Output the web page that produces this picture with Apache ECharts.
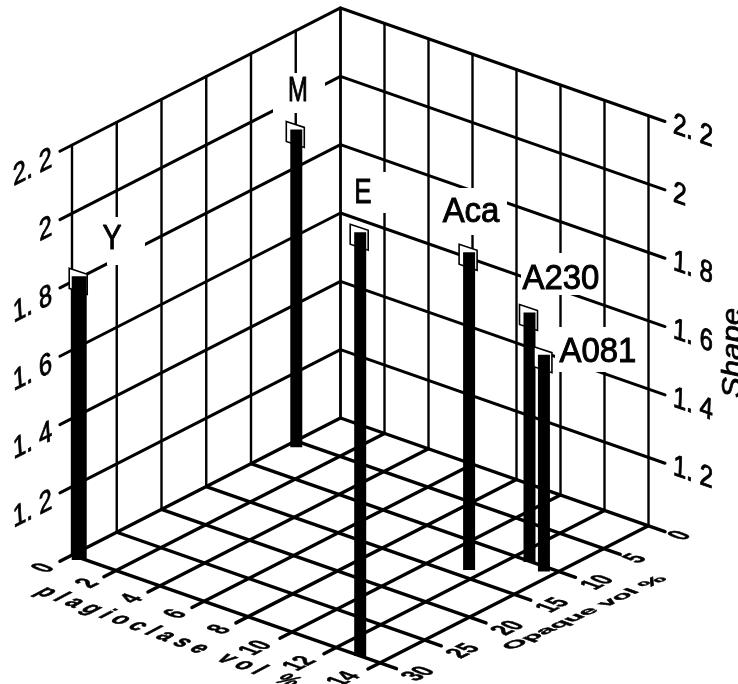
<!DOCTYPE html>
<html>
<head>
<meta charset="utf-8">
<style>html,body{margin:0;padding:0;background:#fff;overflow:hidden}#c{width:738px;height:684px}</style>
<script src="https://cdn.jsdelivr.net/npm/echarts@6/dist/echarts.min.js"></script>
</head>
<body>
<div id="c"></div>
<script>
// ---- data ----
var sampleNames = ['Y', 'M', 'E', 'Aca', 'A230', 'A081'];
var plagioclase = [0.45, 0.35, 13.1, 11.5, 12.7, 13.6];
var opaque      = [30.3, 5.8, 30.0, 13.9, 10.1, 10.7];
var shape       = [1.83, 1.93, 2.24, 1.93, 1.73, 1.635];

var plagTicks  = [0, 2, 4, 6, 8, 10, 12, 14];
var opaqueTicks = [0, 5, 10, 15, 20, 25, 30];
var shapeTicks = [1.2, 1.4, 1.6, 1.8, 2, 2.2];
var shapeTickLabels = ['1. 2', '1. 4', '1. 6', '1. 8', '2', '2. 2'];
var plagTitle = 'p l a g i o c l a s e   v o l   %';
var opaqueTitle = 'Opaque vol %';
var shapeTitle = 'Shape';

// ---- oblique projection of the 3D axes on to the page ----
var SHAPE_MIN = 1;
function proj(p, o, s) {
  return [340.5 + 22 * p - 8.95 * o,
          418 + 7.7 * p + 4.57 * o - 341.7 * (s - SHAPE_MIN)];
}
var PMAX = 14, OMAX = 30, SMAX = 2.2, PTICK = 14.75, OTICK = 31.35;

// ---- layout of the sample labels (white plates over the grid) ----
var plates = {
  Y:    {box: [107, 217, 145, 265], c: [112, 239], sx: 0.82},
  M:    {box: [273, 73, 325, 113],  c: [298, 91],  sx: 0.68},
  E:    {box: [345, 172, 395, 213], c: [363, 193], sx: 0.74},
  Aca:  {box: [435, 188, 507, 235], c: [471, 212], sx: 0.94},
  A230: {box: [521, 253, 600, 295], c: [561, 279], sx: 0.94},
  A081: {box: [555, 327, 612, 372], c: [598, 352], sx: 0.94}
};

// text with an arbitrary affine map: u = image of text x, v = image of text y
function affineText(str, x, y, u, v, font, align, heavy) {
  var a = u[0], b = u[1], c = v[0], d = v[1];
  var E = (a + d) / 2, F = (a - d) / 2, G = (b + c) / 2, H = (b - c) / 2;
  var Q = Math.hypot(E, H), R = Math.hypot(F, G);
  var a1 = Math.atan2(G, F), a2 = Math.atan2(H, E);
  var th = (a2 - a1) / 2, ph = (a2 + a1) / 2;
  return {
    type: 'group', x: x, y: y, rotation: -ph, scaleX: Q + R, scaleY: Q - R,
    children: [{
      type: 'text', rotation: -th,
      style: {text: str, x: 0, y: 0, fill: '#000', stroke: '#000', lineWidth: heavy || 0.7, font: font,
              align: align || 'center', verticalAlign: 'middle'}
    }]
  };
}

// grid segments built from the tick arrays: [p0,o0,s0,p1,o1,s1,width]
var segments = [];
opaqueTicks.forEach(function (o) {
  segments.push([0, o, SHAPE_MIN, 0, o, SMAX, 2.4]);
  segments.push([0, o, SHAPE_MIN, PTICK, o, SHAPE_MIN, 3.4]);
});
plagTicks.forEach(function (p) {
  segments.push([p, 0, SHAPE_MIN, p, 0, SMAX, 2.4]);
  segments.push([p, 0, SHAPE_MIN, p, OTICK, SHAPE_MIN, 3.4]);
});
shapeTicks.forEach(function (s) {
  segments.push([0, 0, s, 0, OTICK, s, 3]);
  segments.push([0, 0, s, PTICK, 0, s, 3]);
});

var sampleData = sampleNames.map(function (n, i) {
  return [plagioclase[i], opaque[i], shape[i], i];
});

function renderSeg(params, api) {
  var a = proj(api.value(0), api.value(1), api.value(2));
  var b = proj(api.value(3), api.value(4), api.value(5));
  var p0 = api.coord(a), p1 = api.coord(b);
  return {type: 'line', shape: {x1: p0[0], y1: p0[1], x2: p1[0], y2: p1[1]},
          style: {stroke: '#000', lineWidth: api.value(6), lineCap: 'round'}};
}

function renderBar(params, api) {
  var p = api.value(0), o = api.value(1), s = api.value(2), idx = api.value(3);
  var base = api.coord(proj(p, o, SHAPE_MIN));
  var top = api.coord(proj(p, o, s));
  var w = sampleNames[idx] === 'Y' ? 15 : 12;
  var cx = base[0], ty = top[1];
  return {type: 'group', children: [
    {type: 'polygon',
     shape: {points: [[cx - 10, ty - 8], [cx + 8, ty - 2], [cx + 8, ty + 18], [cx - 10, ty + 12]]},
     style: {fill: '#fff', stroke: '#000', lineWidth: 1.6}},
    {type: 'rect', shape: {x: cx - w / 2, y: ty, width: w, height: base[1] - ty},
     style: {fill: '#000'}}
  ]};
}

function renderPlate(params, api) {
  var pl = plates[sampleNames[api.value(3)]];
  var a = api.coord([pl.box[0], pl.box[1]]), b = api.coord([pl.box[2], pl.box[3]]);
  return {type: 'rect', shape: {x: a[0], y: a[1], width: b[0] - a[0], height: b[1] - a[1]},
          style: {fill: '#fff'}};
}
function renderPlateText(params, api) {
  var name = sampleNames[api.value(3)], pl = plates[name];
  var c = api.coord(pl.c);
  return affineText(name, c[0], c[1], [pl.sx, 0], [0, 1], '35px "Liberation Sans"', 'center', 1);
}

var FONT_TICK = '30px "Liberation Sans"';
var FONT_FLOOR = 'bold 30px "Liberation Sans"';
var FONT_TITLE = 'bold 22px "Liberation Sans"';
function renderTickTexts(params, api) {
  var kids = [];
  shapeTicks.forEach(function (s, i) {
    var l = api.coord(proj(0, OTICK, s));
    var r = api.coord(proj(PTICK, 0, s));
    kids.push(affineText(shapeTickLabels[i], l[0] - 8, l[1] + 7, [0.78, -0.39], [0.06, 1], FONT_TICK, 'right', 0.9));
    kids.push(affineText(shapeTickLabels[i], r[0] + 8, r[1] + 3, [0.8, 0.28], [-0.04, 1], FONT_TICK, 'left', 0.9));
  });
  var ub = [0.62, -0.31], vb = [0.85, 0.3];
  plagTicks.forEach(function (p) {
    var q = api.coord(proj(p, OMAX, SHAPE_MIN));
    var d = String(p).length > 1 ? [-36, 16] : [-28, 13];
    kids.push(affineText(String(p), q[0] + d[0], q[1] + d[1], ub, vb, FONT_FLOOR));
  });
  opaqueTicks.forEach(function (o) {
    var q = api.coord(proj(PMAX, o, SHAPE_MIN));
    var d = String(o).length > 1 ? [39, 11] : [32, 10];
    kids.push(affineText(String(o), q[0] + d[0], q[1] + d[1], ub, vb, FONT_FLOOR));
  });
  var a = api.coord([168, 637]);
  kids.push(affineText(plagTitle, a[0], a[1], [0.91, 0.335], [-0.85, 0.6], 'italic ' + FONT_TITLE));
  var b = api.coord([585, 613]);
  kids.push(affineText(opaqueTitle, b[0], b[1], [1.08, -0.49], [0.75, 0.27], FONT_TITLE));
  var c = api.coord([733, 353]);
  kids.push(affineText(shapeTitle, c[0], c[1], [0, -1.2], [1.05, 0], 'italic 26px "Liberation Sans"'));
  return {type: 'group', children: kids};
}

var chart = echarts.init(document.getElementById('c'), null, {renderer: 'canvas'});
chart.setOption({
  animation: false,
  backgroundColor: '#fff',
  grid: {left: 0, right: 0, top: 0, bottom: 0},
  xAxis: {type: 'value', min: 0, max: 738, show: false},
  yAxis: {type: 'value', min: 0, max: 684, inverse: true, show: false},
  series: [
    {type: 'custom', name: 'grid', coordinateSystem: 'cartesian2d', renderItem: renderSeg,
     data: segments, clip: false, silent: true, z: 1, encode: {x: 0, y: 1}},
    {type: 'custom', name: 'plates', coordinateSystem: 'cartesian2d', renderItem: renderPlate,
     data: sampleData, silent: true, z: 2, encode: {x: 0, y: 1}},
    {type: 'custom', name: 'plate text', coordinateSystem: 'cartesian2d', renderItem: renderPlateText,
     data: sampleData, silent: true, z: 3, encode: {x: 0, y: 1}},
    {type: 'custom', name: 'samples', coordinateSystem: 'cartesian2d', renderItem: renderBar,
     data: sampleData, silent: true, z: 4, clip: false, encode: {x: 0, y: 1}},
    {type: 'custom', name: 'axis text', coordinateSystem: 'cartesian2d', renderItem: renderTickTexts,
     data: [[0, 0]], silent: true, z: 5, encode: {x: 0, y: 1}}
  ]
});
</script>
</body>
</html>
